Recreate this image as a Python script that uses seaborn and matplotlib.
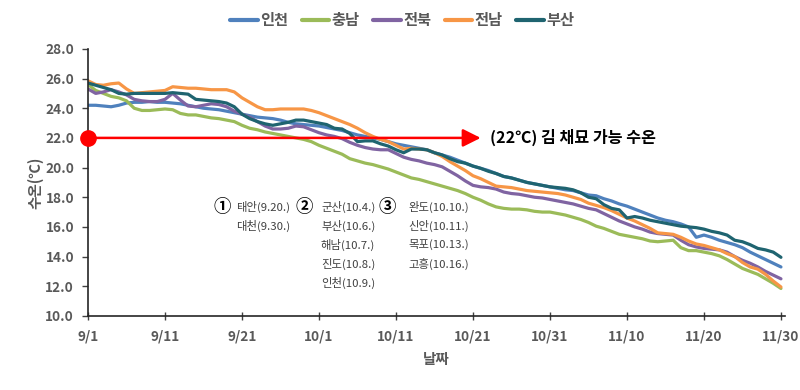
import numpy as np
import pandas as pd
import matplotlib
matplotlib.use("Agg")
import matplotlib.pyplot as plt
import seaborn as sns

regions = ["인천", "충남", "전북", "전남", "부산"]
colors = ["#4F81BD", "#9BBB59", "#8064A2", "#F79646", "#1F6470"]

tick_labels = ["9/1", "9/11", "9/21", "10/1", "10/11", "10/21", "10/31", "11/10", "11/20", "11/30"]

incheon = [24.2, 24.2, 24.15, 24.1, 24.2, 24.35, 24.4, 24.4, 24.45, 24.4,
           24.4, 24.35, 24.3, 24.2, 24.1, 24.0, 23.95, 23.9, 23.8, 23.7,
           23.6, 23.5, 23.4, 23.35, 23.3, 23.2, 23.05, 22.95, 22.9, 22.85,
           22.8, 22.7, 22.6, 22.5, 22.35, 22.2, 22.1, 22.0, 21.9, 21.75,
           21.6, 21.5, 21.4, 21.3, 21.2, 21.0, 20.85, 20.7, 20.5, 20.3,
           20.1, 19.95, 19.8, 19.6, 19.4, 19.3, 19.15, 19.0, 18.9, 18.8,
           18.7, 18.6, 18.5, 18.45, 18.3, 18.15, 18.1, 17.9, 17.75, 17.55,
           17.4, 17.2, 17.0, 16.8, 16.6, 16.45, 16.35, 16.2, 16.0, 15.3,
           15.45, 15.3, 15.1, 14.95, 14.8, 14.6, 14.3, 14.05, 13.8, 13.55,
           13.3]

chungnam = [25.6, 25.2, 25.0, 24.8, 24.7, 24.5, 24.0, 23.85, 23.85, 23.9,
            23.95, 23.9, 23.65, 23.55, 23.55, 23.45, 23.35, 23.3, 23.2, 23.1,
            22.85, 22.65, 22.55, 22.4, 22.3, 22.2, 22.1, 22.0, 21.9, 21.75,
            21.5, 21.3, 21.1, 20.9, 20.6, 20.45, 20.3, 20.2, 20.05, 19.9,
            19.7, 19.5, 19.3, 19.2, 19.05, 18.9, 18.75, 18.6, 18.45, 18.25,
            18.0, 17.8, 17.55, 17.35, 17.25, 17.2, 17.2, 17.15, 17.05, 17.0,
            17.0, 16.9, 16.8, 16.65, 16.5, 16.3, 16.05, 15.9, 15.7, 15.5,
            15.4, 15.3, 15.2, 15.05, 15.0, 15.05, 15.1, 14.6, 14.4, 14.4,
            14.3, 14.2, 14.05, 13.8, 13.5, 13.2, 13.0, 12.8, 12.5, 12.2,
            11.85]

jeonbuk = [25.3, 25.0, 25.1, 25.25, 25.1, 24.9, 24.6, 24.5, 24.45, 24.45,
           24.6, 25.0, 24.55, 24.15, 24.1, 24.2, 24.3, 24.25, 24.1, 23.8,
           23.6, 23.4, 23.1, 22.8, 22.6, 22.6, 22.65, 22.8, 22.75, 22.55,
           22.35, 22.2, 22.1, 21.95, 21.7, 21.5, 21.35, 21.25, 21.2, 21.2,
           20.95, 20.7, 20.55, 20.45, 20.3, 20.2, 20.05, 19.75, 19.45, 19.1,
           18.8, 18.7, 18.65, 18.55, 18.35, 18.25, 18.2, 18.1, 18.0, 17.95,
           17.85, 17.75, 17.65, 17.55, 17.4, 17.25, 17.15, 16.9, 16.65, 16.4,
           16.2, 16.0, 15.85, 15.65, 15.55, 15.5, 15.45, 15.1, 14.8, 14.65,
           14.55, 14.5, 14.45, 14.3, 14.0, 13.75, 13.55, 13.3, 13.0, 12.75,
           12.5]

jeonnam = [25.85, 25.6, 25.55, 25.65, 25.7, 25.3, 25.0, 25.05, 25.1, 25.15,
           25.2, 25.45, 25.4, 25.35, 25.35, 25.3, 25.25, 25.25, 25.25, 25.1,
           24.7, 24.4, 24.1, 23.9, 23.9, 23.95, 23.95, 23.95, 23.95, 23.85,
           23.7, 23.5, 23.3, 23.1, 22.9, 22.65, 22.35, 22.1, 21.9, 21.75,
           21.5, 21.25, 21.3, 21.25, 21.2, 21.0, 20.75, 20.4, 20.1, 19.8,
           19.45, 19.25, 19.0, 18.75, 18.7, 18.65, 18.55, 18.45, 18.4, 18.35,
           18.3, 18.25, 18.15, 18.0, 17.85, 17.6, 17.45, 17.3, 17.1, 16.85,
           16.6, 16.4, 16.15, 15.9, 15.6, 15.55, 15.5, 15.3, 15.05, 14.85,
           14.75, 14.6, 14.45, 14.2, 14.0, 13.6, 13.3, 13.15, 12.8, 12.35,
           11.95]

busan = [25.7, 25.55, 25.4, 25.25, 25.0, 24.95, 25.0, 25.0, 25.0, 25.0,
         25.0, 25.05, 25.0, 24.95, 24.6, 24.55, 24.5, 24.45, 24.35, 24.1,
         23.6, 23.3, 23.1, 22.95, 22.85, 22.95, 23.05, 23.2, 23.2, 23.1,
         23.0, 22.9, 22.65, 22.6, 22.3, 21.75, 21.8, 21.8, 21.6, 21.45,
         21.2, 21.0, 21.25, 21.25, 21.2, 21.0, 20.85, 20.6, 20.4, 20.3,
         20.1, 19.95, 19.75, 19.6, 19.4, 19.3, 19.15, 19.0, 18.9, 18.8,
         18.7, 18.65, 18.6, 18.5, 18.3, 18.0, 17.9, 17.5, 17.25, 17.15,
         16.6, 16.7, 16.6, 16.45, 16.35, 16.25, 16.15, 16.05, 16.0, 15.95,
         15.85, 15.7, 15.6, 15.45, 15.1, 15.0, 14.8, 14.55, 14.45, 14.3,
         13.95]

notes_1 = ["태안(9.20.)", "대천(9.30.)"]
notes_2 = ["군산(10.4.)", "부산(10.6.)", "해남(10.7.)", "진도(10.8.)", "인천(10.9.)"]
notes_3 = ["완도(10.10.)", "신안(10.11.)", "목포(10.13.)", "고흥(10.16.)"]

series = [incheon, chungnam, jeonbuk, jeonnam, busan]
days = np.arange(len(incheon))
df = pd.concat([pd.DataFrame({"day": days, "temp": s, "region": r})
                for r, s in zip(regions, series)], ignore_index=True)

sns.set_theme(style="white")
plt.rcParams["font.family"] = ["Noto Sans CJK KR", "DejaVu Sans"]

fig = plt.figure(figsize=(8, 3.9), dpi=100)
ax = fig.add_axes([0.11, 0.19, 0.871, 0.6846])

sns.lineplot(data=df, x="day", y="temp", hue="region", hue_order=regions,
             palette=colors, linewidth=2.3, ax=ax, legend=True)

gray = "#595959"
ax.set_xlim(0, 90.5)
ax.set_ylim(10, 28)
ax.set_yticks(np.arange(10, 28.1, 2))
ax.set_yticklabels([f"{v:.1f}" for v in np.arange(10, 28.1, 2)])
ax.set_xticks(np.arange(0, 91, 10))
ax.set_xticklabels(tick_labels)
for lab in ax.get_xticklabels() + ax.get_yticklabels():
    lab.set_fontweight("bold")
    lab.set_color(gray)
    lab.set_fontsize(9.8)
ax.tick_params(axis="y", direction="out", length=4, width=1, color="#404040", pad=6, left=True)
ax.tick_params(axis="x", direction="inout", length=6, width=1, color="#404040", pad=7, bottom=True)

for s in ["top", "right"]:
    ax.spines[s].set_visible(False)
for s in ["left", "bottom"]:
    ax.spines[s].set_color("#262626")
    ax.spines[s].set_linewidth(1.2)

ax.set_xlabel("날짜", fontsize=10.5, fontweight="bold", color=gray, labelpad=5)
ax.set_ylabel("수온(℃)", fontsize=10.5, fontweight="bold", color=gray, labelpad=1)

handles, labels = ax.get_legend_handles_labels()
leg = ax.legend(handles, labels, loc="center", bbox_to_anchor=(0.451, 1.108), ncol=5,
                frameon=False, handlelength=1.8, handletextpad=0.15, columnspacing=0.9,
                prop={"family": ["Noto Sans CJK KR"], "size": 11, "weight": "bold"})
for t in leg.get_texts():
    t.set_color(gray)
for h in leg.legend_handles:
    h.set_linewidth(3)

# 22 degree reference line
ax.annotate("", xy=(51.0, 22), xytext=(0, 22),
            arrowprops=dict(arrowstyle="-|>,head_length=0.9,head_width=0.45",
                            color="#FF0000", lw=1.8, shrinkA=0, shrinkB=0),
            annotation_clip=False)
ax.plot([0], [22], "o", color="#FF0000", markersize=11, clip_on=False, zorder=5)
ax.text(52.2, 22, "(22℃) 김 채묘 가능 수온", fontsize=11.6, fontweight="bold",
        color="black", va="center", ha="left")

# notes
def put_notes(xc, xt, num, lines):
    y0 = 17.35
    step = 1.28
    ax.text(xc, y0, num, fontsize=12.5, fontweight="bold", color="black",
            va="center", ha="center", family=["Noto Sans CJK KR", "DejaVu Sans"])
    for i, t in enumerate(lines):
        ax.text(xt, y0 - i * step, t, fontsize=8.2, color="#404040", va="center", ha="left")

put_notes((222 - 88) / 7.7, (236 - 88) / 7.7, "①", notes_1)
put_notes((304 - 88) / 7.7, (321 - 88) / 7.7, "②", notes_2)
put_notes((387 - 88) / 7.7, (408 - 88) / 7.7, "③", notes_3)

fig.savefig("out.png", dpi=100)
